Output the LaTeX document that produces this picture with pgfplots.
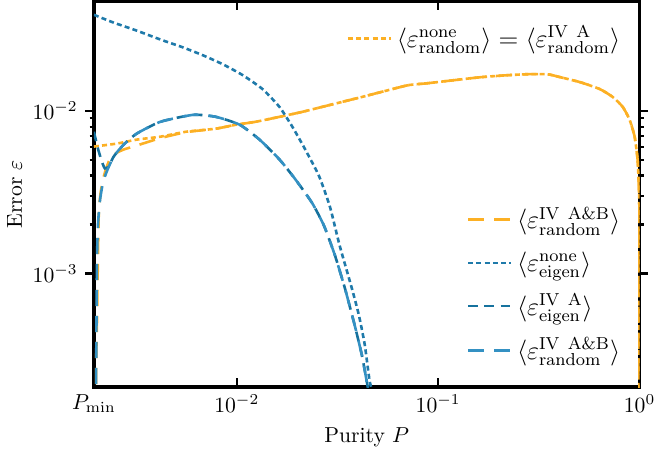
\documentclass[border=0pt]{standalone}
\usepackage{pgfplots}
\pgfplotsset{compat=1.18}

\definecolor{orng}{RGB}{252,176,36}
\definecolor{bdot}{RGB}{31,122,170}
\definecolor{bdash}{RGB}{22,114,158}
\definecolor{blong}{RGB}{52,145,195}

\pgfplotsset{
  legline/.style={legend image code/.code={\draw[##1] (0pt,0pt) -- (20pt,0pt);}},
}

\begin{document}
\begin{tikzpicture}
\begin{axis}[
  name=ax,
  scale only axis,
  width=252pt, height=178pt,
  xmode=log, ymode=log,
  xmin=0.001953125, xmax=1,
  ymin=2e-4, ymax=0.047,
  xtick={0.001953125,0.01,0.1,1},
  xticklabels={$P_{\min}$,$10^{-2}$,$10^{-1}$,$10^{0}$},
  ytick={1e-3,1e-2},
  xlabel={Purity $P$},
  ylabel={Error $\varepsilon$},
  ylabel shift=-2pt,
  axis line style={line width=1.5pt},
  tick style={black, line width=1pt},
  xtick align=inside, ytick align=outside,
  major tick length=4pt, minor tick length=2pt,
  legline,
  legend cell align=left,
  legend style={draw=none, fill=none, at={(0.985,0.04)}, anchor=south east,
    font=\fontsize{11.5}{13.5}\selectfont, row sep=5pt},
  every axis plot/.append style={line width=1.2pt, smooth, tension=0.35},
]
% <eps_random^none> = <eps_random^IVA>
\addplot[orng, dash pattern=on 2.3pt off 1.5pt, forget plot] coordinates {
(0.001953,0.006033)(0.002535,0.006292)(0.003181,0.006654)(0.004177,0.006940)
(0.005609,0.007447)(0.007880,0.007773)(0.009887,0.008215)(0.01241,0.008570)
(0.01629,0.009192)(0.02114,0.009860)(0.02652,0.01058)(0.03327,0.01135)
(0.04175,0.01217)(0.05671,0.01343)(0.07117,0.01440)(0.08928,0.01481)
(0.1199,0.01545)(0.1628,0.01612)(0.2212,0.01658)(0.2775,0.01681)
(0.3481,0.01681)(0.4036,0.01612)(0.5064,0.01502)(0.6353,0.01361)
(0.7360,0.01217)(0.8247,0.01058)(0.8925,0.008813)(0.9450,0.006940)
(0.9775,0.005025)(0.99,0.003589)(0.995,0.002990)(0.998,0.001963)(0.9995,0.0001)
};
% <eps_random^IVA&B>
\addplot[orng, dash pattern=on 7.5pt off 4.5pt] coordinates {
(0.001995,0.0001)(0.002005,0.0003)(0.002021,0.000482)(0.002045,0.001288)
(0.002067,0.002422)(0.002114,0.003207)(0.002187,0.003959)(0.002315,0.004887)
(0.002506,0.005468)(0.002744,0.005784)(0.003181,0.006118)(0.004177,0.006800)
(0.005609,0.007400)(0.007880,0.007773)(0.009887,0.008215)(0.01241,0.008570)
(0.01629,0.009192)(0.02114,0.009860)(0.02652,0.01058)(0.03327,0.01135)
(0.04175,0.01217)(0.05671,0.01343)(0.07117,0.01440)(0.08928,0.01481)
(0.1199,0.01545)(0.1628,0.01612)(0.2212,0.01658)(0.2775,0.01681)
(0.3481,0.01681)(0.4036,0.01612)(0.5064,0.01502)(0.6353,0.01361)
(0.7360,0.01217)(0.8247,0.01058)(0.8925,0.008813)(0.9450,0.006940)
(0.9775,0.005025)(0.99,0.003589)(0.995,0.002990)(0.998,0.001963)(0.9995,0.0001)
};
% <eps_eigen^none>
\addplot[bdot, dash pattern=on 2.3pt off 1.5pt] coordinates {
(0.001953,0.0390)(0.002449,0.03490)(0.003181,0.03119)(0.004177,0.02748)
(0.005420,0.02455)(0.006802,0.02196)(0.008531,0.01935)(0.01071,0.01658)
(0.01343,0.01361)(0.01629,0.01058)(0.01888,0.007989)(0.02188,0.005784)
(0.02564,0.003959)(0.02904,0.002560)(0.03240,0.001489)(0.03727,0.0008101)
(0.04038,0.0005546)(0.04320,0.0003639)(0.04571,0.0002164)(0.04786,0.0001803)
};
% <eps_eigen^IVA>
\addplot[bdash, dash pattern=on 4.5pt off 3pt] coordinates {
(0.001953,0.007447)(0.002044,0.005866)(0.002138,0.004887)(0.002212,0.004428)
(0.002315,0.004555)(0.002449,0.005243)(0.002744,0.006204)(0.003181,0.007242)
(0.004177,0.008570)(0.006073,0.009454)(0.007880,0.009192)(0.01035,0.008215)
(0.01298,0.006654)(0.01629,0.005025)(0.01953,0.003796)(0.02368,0.002710)
(0.02712,0.001963)(0.03074,0.001288)(0.03443,0.0008101)(0.03814,0.0005025)
(0.04175,0.0003162)(0.04470,0.0002000)(0.04620,0.0001567)
};
% <eps_random^IVA&B> (blue)
\addplot[blong, dash pattern=on 7.5pt off 4.5pt] coordinates {
(0.001995,0.0001)(0.002005,0.0003)(0.002021,0.001119)(0.002044,0.001963)
(0.002091,0.002787)(0.002163,0.003589)(0.002263,0.004246)(0.002449,0.005243)
(0.002744,0.006204)(0.003181,0.007242)(0.004177,0.008570)(0.006073,0.009454)
(0.007880,0.009192)(0.01035,0.008215)(0.01298,0.006654)(0.01629,0.005025)
(0.01953,0.003796)(0.02368,0.002710)(0.02712,0.001963)(0.03074,0.001288)
(0.03443,0.0008101)(0.03814,0.0005025)(0.04175,0.0003162)(0.04470,0.0002000)
(0.04620,0.0001567)
};
\legend{
$\langle\varepsilon^{\mathrm{IV\ A\&B}}_{\mathrm{random}}\rangle$,
$\langle\varepsilon^{\mathrm{none}}_{\mathrm{eigen}}\rangle$,
$\langle\varepsilon^{\mathrm{IV\ A}}_{\mathrm{eigen}}\rangle$,
$\langle\varepsilon^{\mathrm{IV\ A\&B}}_{\mathrm{random}}\rangle$}
\end{axis}
\begin{axis}[
  scale only axis,
  width=252pt, height=178pt,
  xmode=log, ymode=log,
  xmin=0.001953125, xmax=1,
  ymin=2e-4, ymax=0.047,
  hide axis,
  legline,
  legend style={draw=none, fill=none, at={(0.985,0.96)}, anchor=north east,
    font=\fontsize{11.5}{13.5}\selectfont},
]
\addlegendimage{orng, line width=1.2pt, dash pattern=on 2.3pt off 1.5pt}
\addlegendentry{$\langle\varepsilon^{\mathrm{none}}_{\mathrm{random}}\rangle = \langle\varepsilon^{\mathrm{IV\ A}}_{\mathrm{random}}\rangle$}
\end{axis}
\pgfresetboundingbox
\path[use as bounding box] (ax.outer south west) rectangle ([xshift=-3pt]ax.outer north east);
\end{tikzpicture}
\end{document}
